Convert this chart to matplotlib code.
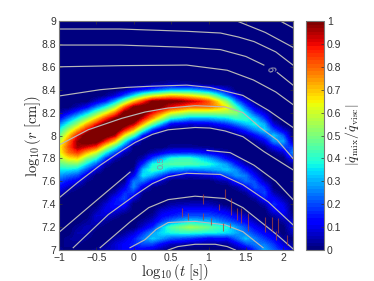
import matplotlib
matplotlib.use('Agg')
import matplotlib.pyplot as plt
import numpy as np

plt.rcParams['font.family'] = ['Liberation Sans', 'DejaVu Sans']
plt.rcParams['mathtext.fontset'] = 'cm'

# readings of |qmix/qvisc| along each time column, log10(r) -> value, anything not listed is ~0
t_cols = [-1 + 0.125 * i for i in range(27)]
r_rows = [round(7 + 0.05 * i, 2) for i in range(41)]

col_m1000 = {8.2:.03,8.15:.12,8.1:.25,8.05:.37,8.0:.46,7.95:.56,7.9:.62,7.85:.62,7.8:.55,7.75:.46,7.7:.36,7.65:.28,7.6:.2,7.55:.13,7.5:.07,7.0:.03}
col_m0875 = {8.2:.1,8.15:.25,8.1:.4,8.05:.55,8.0:.68,7.95:.78,7.9:.82,7.85:.78,7.8:.65,7.75:.5,7.7:.36,7.65:.24,7.6:.14,7.55:.07,7.5:.02,7.1:.03,7.05:.03}
col_m0750 = {8.25:.05,8.2:.2,8.15:.38,8.1:.55,8.05:.72,8.0:.9,7.95:.98,7.9:.97,7.85:.85,7.8:.68,7.75:.5,7.7:.33,7.65:.2,7.6:.1,7.55:.03,7.2:.03,7.15:.05,7.1:.04,7.05:.02}
col_m0625 = {8.25:.12,8.2:.32,8.15:.52,8.1:.72,8.05:.9,8.0:1.05,7.95:1.05,7.9:.92,7.85:.72,7.8:.52,7.75:.35,7.7:.2,7.65:.08,7.6:.02,7.25:.03,7.2:.06,7.15:.05,7.1:.02}
col_m0500 = {8.3:.07,8.25:.25,8.2:.47,8.15:.68,8.1:.88,8.05:1.05,8.0:1.1,7.95:1.05,7.9:.85,7.85:.6,7.8:.4,7.75:.22,7.7:.08,7.35:.04,7.3:.08,7.25:.07,7.2:.03,7.0:.03}
col_m0375 = {8.35:.02,8.3:.15,8.25:.38,8.2:.62,8.15:.85,8.1:1.05,8.05:1.1,8.0:1.05,7.95:.88,7.9:.62,7.85:.38,7.8:.18,7.75:.05,7.45:.02,7.4:.08,7.35:.11,7.3:.08,7.25:.03,7.05:.03,7.0:.05}
col_m0250 = {8.35:.08,8.3:.3,8.25:.55,8.2:.78,8.15:1.0,8.1:1.1,8.05:1.1,8.0:.95,7.95:.7,7.9:.42,7.85:.2,7.8:.05,7.5:.05,7.45:.13,7.4:.15,7.35:.1,7.3:.04,7.1:.04,7.05:.08,7.0:.08}
col_m0125 = {8.4:.03,8.35:.2,8.3:.5,8.25:.8,8.2:1.02,8.15:1.1,8.1:1.05,8.05:.9,8.0:.65,7.95:.4,7.9:.2,7.85:.05,7.6:.02,7.55:.09,7.5:.17,7.45:.2,7.4:.14,7.35:.06,7.15:.03,7.1:.08,7.05:.12,7.0:.12}
col_0000 = {8.4:.1,8.35:.35,8.3:.7,8.25:1.0,8.2:1.1,8.15:1.1,8.1:.95,8.05:.72,8.0:.45,7.95:.15,7.7:.03,7.65:.12,7.6:.25,7.55:.27,7.5:.18,7.45:.08,7.15:.08,7.1:.15,7.05:.16,7.0:.12}
col_0125 = {8.4:.15,8.35:.5,8.3:.85,8.25:1.05,8.2:1.05,8.15:.92,8.1:.72,8.05:.45,8.0:.15,7.8:.05,7.75:.17,7.7:.32,7.65:.36,7.6:.24,7.55:.1,7.5:.02,7.25:.03,7.2:.08,7.15:.18,7.1:.25,7.05:.2,7.0:.1}
col_0250 = {8.45:.02,8.4:.2,8.35:.6,8.3:1.0,8.25:1.05,8.2:.9,8.15:.75,8.1:.5,8.05:.2,7.85:.05,7.8:.2,7.75:.38,7.7:.42,7.65:.3,7.6:.13,7.55:.02,7.3:.03,7.25:.08,7.2:.16,7.15:.28,7.1:.33,7.05:.2,7.0:.08}
col_0375 = {8.45:.03,8.4:.25,8.35:.65,8.3:1.02,8.25:1.0,8.2:.78,8.15:.58,8.1:.3,8.05:.05,7.85:.1,7.8:.3,7.75:.43,7.7:.38,7.65:.2,7.6:.06,7.35:.07,7.3:.12,7.25:.18,7.2:.32,7.15:.35,7.1:.28,7.05:.12,7.0:.03}
col_0500 = {8.45:.05,8.4:.3,8.35:.7,8.3:1.02,8.25:.9,8.2:.65,8.15:.4,8.1:.12,7.9:.03,7.85:.15,7.8:.4,7.75:.45,7.7:.3,7.65:.1,7.4:.04,7.35:.1,7.3:.15,7.25:.25,7.2:.45,7.15:.38,7.1:.22,7.05:.06}
col_0625 = {8.45:.04,8.4:.3,8.35:.68,8.3:1.0,8.25:.85,8.2:.6,8.15:.35,8.1:.1,7.9:.03,7.85:.16,7.8:.42,7.75:.45,7.7:.28,7.65:.08,7.4:.05,7.35:.12,7.3:.18,7.25:.3,7.2:.5,7.15:.4,7.1:.2,7.05:.05}
col_0750 = {8.45:.03,8.4:.3,8.35:.65,8.3:.95,8.25:.8,8.2:.55,8.15:.3,8.1:.08,7.9:.03,7.85:.17,7.8:.42,7.75:.45,7.7:.25,7.65:.06,7.4:.06,7.35:.14,7.3:.2,7.25:.35,7.2:.55,7.15:.4,7.1:.18,7.05:.03}
col_0875 = {8.45:.02,8.4:.27,8.35:.6,8.3:.9,8.25:.8,8.2:.55,8.15:.3,8.1:.09,7.9:.02,7.85:.15,7.8:.36,7.75:.43,7.7:.26,7.65:.07,7.4:.06,7.35:.14,7.3:.2,7.25:.33,7.2:.52,7.15:.39,7.1:.15,7.05:.03}
col_1000 = {8.4:.22,8.35:.55,8.3:.82,8.25:.8,8.2:.55,8.15:.3,8.1:.1,7.9:.02,7.85:.12,7.8:.3,7.75:.4,7.7:.28,7.65:.08,7.4:.06,7.35:.14,7.3:.2,7.25:.32,7.2:.48,7.15:.38,7.1:.12,7.05:.02}
col_1125 = {8.4:.15,8.35:.4,8.3:.68,8.25:.74,8.2:.55,8.15:.33,8.1:.14,8.05:.02,7.85:.08,7.8:.22,7.75:.34,7.7:.3,7.65:.14,7.6:.03,7.4:.03,7.35:.11,7.3:.18,7.25:.27,7.2:.43,7.15:.37,7.1:.13,7.05:.03}
col_1250 = {8.4:.08,8.35:.25,8.3:.5,8.25:.65,8.2:.55,8.15:.35,8.1:.18,8.05:.04,7.85:.04,7.8:.12,7.75:.28,7.7:.33,7.65:.2,7.6:.05,7.35:.08,7.3:.15,7.25:.22,7.2:.38,7.15:.35,7.1:.13,7.05:.02}
col_1375 = {8.35:.1,8.3:.25,8.25:.42,8.2:.52,8.15:.42,8.1:.25,8.05:.1,8.0:.02,7.8:.05,7.75:.15,7.7:.27,7.65:.28,7.6:.16,7.55:.04,7.3:.1,7.25:.17,7.2:.28,7.15:.3,7.1:.23,7.05:.1,7.0:.02}
col_1500 = {8.3:.1,8.25:.22,8.2:.35,8.15:.42,8.1:.32,8.05:.18,8.0:.05,7.75:.05,7.7:.15,7.65:.25,7.6:.24,7.55:.12,7.5:.03,7.3:.06,7.25:.12,7.2:.2,7.15:.25,7.1:.32,7.05:.2,7.0:.05}
col_1625 = {8.25:.07,8.2:.18,8.15:.32,8.1:.38,8.05:.27,8.0:.13,7.95:.03,7.7:.05,7.65:.12,7.6:.2,7.55:.22,7.5:.14,7.45:.04,7.25:.06,7.2:.12,7.15:.18,7.1:.25,7.05:.25,7.0:.18}
col_1750 = {8.2:.08,8.15:.18,8.1:.3,8.05:.35,8.0:.22,7.95:.1,7.9:.02,7.6:.06,7.55:.16,7.5:.2,7.45:.15,7.4:.05,7.2:.06,7.15:.12,7.1:.18,7.05:.25,7.0:.3}
col_1875 = {8.1:.08,8.05:.2,8.0:.33,7.95:.27,7.9:.12,7.85:.02,7.5:.05,7.45:.12,7.4:.17,7.35:.12,7.3:.04,7.15:.06,7.1:.12,7.05:.18,7.0:.22}
col_2000 = {8.05:.08,8.0:.22,7.95:.3,7.9:.2,7.85:.07,7.45:.04,7.4:.1,7.35:.13,7.3:.1,7.25:.04,7.1:.03,7.05:.08,7.0:.15}
col_2125 = {7.95:.06,7.9:.18,7.85:.27,7.8:.14,7.75:.03,7.3:.03,7.25:.08,7.2:.1,7.15:.06,7.05:.03,7.0:.06}
col_2250 = {7.85:.04,7.8:.14,7.75:.2,7.7:.1,7.65:.02,7.2:.04,7.15:.07,7.1:.07,7.05:.03}
columns = [col_m1000, col_m0875, col_m0750, col_m0625, col_m0500, col_m0375, col_m0250, col_m0125, col_0000,
           col_0125, col_0250, col_0375, col_0500, col_0625, col_0750, col_0875, col_1000, col_1125, col_1250,
           col_1375, col_1500, col_1625, col_1750, col_1875, col_2000, col_2125, col_2250]

# white contour lines, (t, r)
line_t = [
    [1.96, 2.13],
    [1.38, 1.76, 2.13],
    [-1, -0.18, 0.71, 1.16, 1.4, 1.61, 1.9, 2.13],
    [-1, -0.18, 0.71, 1.16, 1.5, 1.74],
    [1.92, 2.13],
    [-1, -0.18, 0.71, 1.25, 1.6, 1.9, 2.13],
    [-1, -0.7, -0.45, -0.1, 0.22, 0.71, 1.02, 1.46, 1.8, 2.13],
    [-0.99, -0.61, -0.16, 0.15, 0.46, 0.82, 1.22, 1.46, 1.69, 1.92, 2.13],
    [-0.99, -0.75, -0.45, -0.2, 0.02, 0.25, 0.46, 0.82, 1.02, 1.22, 1.46, 1.74, 2.13],
    [-0.99, -0.54, -0.05],
    [0.98, 1.29, 1.61, 1.9, 2.13],
    [-0.81, -0.34, 0.02, 0.25, 0.46, 0.71, 1.16, 1.46, 1.8, 2.13],
    [-0.45, -0.05, 0.2, 0.46, 0.82, 1.22, 1.46, 1.92, 2.13],
    [-0.05, 0.15, 0.3, 0.46, 0.82, 1.22, 1.46, 1.73],
    [0.46, 0.59, 0.82, 1.09, 1.25, 1.36],
]
line_r = [
    [9.0, 8.94],
    [9.0, 8.90, 8.77],
    [8.93, 8.93, 8.91, 8.895, 8.86, 8.82, 8.73, 8.615],
    [8.79, 8.79, 8.77, 8.75, 8.69, 8.615],
    [8.55, 8.44],
    [8.60, 8.61, 8.615, 8.57, 8.485, 8.38, 8.27],
    [8.345, 8.375, 8.40, 8.42, 8.43, 8.44, 8.42, 8.35, 8.22, 8.07],
    [7.92, 8.05, 8.15, 8.205, 8.24, 8.26, 8.25, 8.2, 8.07, 7.96, 7.80],
    [7.46, 7.59, 7.74, 7.85, 7.94, 8.01, 8.05, 8.07, 8.065, 8.04, 7.99, 7.86, 7.70],
    [7.16, 7.41, 7.68],
    [7.87, 7.85, 7.74, 7.60, 7.44],
    [7.02, 7.31, 7.48, 7.58, 7.64, 7.67, 7.66, 7.57, 7.42, 7.22],
    [7.02, 7.245, 7.37, 7.44, 7.47, 7.45, 7.37, 7.13, 7.01],
    [7.02, 7.09, 7.18, 7.24, 7.25, 7.22, 7.16, 7.02],
    [7.0, 7.03, 7.05, 7.05, 7.03, 7.0],
]

# the short reddish spikes in the noisy part
spike_t = [1.22, 1.30, 1.14, 1.38, 1.44, 1.53, 1.76, 1.85, 1.93, 1.90, 2.05, 1.29, 0.93, 0.65, 0.72, 1.03, 0.93, 1.19]
spike_lo = [7.45, 7.31, 7.35, 7.26, 7.24, 7.17, 7.16, 7.17, 7.15, 7.09, 7.04, 7.19, 7.40, 7.29, 7.26, 7.22, 7.26, 7.17]
spike_hi = [7.53, 7.45, 7.40, 7.37, 7.37, 7.32, 7.29, 7.29, 7.28, 7.17, 7.13, 7.24, 7.49, 7.37, 7.32, 7.28, 7.32, 7.24]

x_ticks = [-1, -0.5, 0, 0.5, 1, 1.5, 2]
x_labels = ['\u22121', '\u22120.5', '0', '0.5', '1', '1.5', '2']
y_ticks = [7, 7.2, 7.4, 7.6, 7.8, 8, 8.2, 8.4, 8.6, 8.8, 9]
y_labels = ['7', '7.2', '7.4', '7.6', '7.8', '8', '8.2', '8.4', '8.6', '8.8', '9']
cb_ticks = [0, 0.1, 0.2, 0.3, 0.4, 0.5, 0.6, 0.7, 0.8, 0.9, 1]
cb_labels = ['0', '0.1', '0.2', '0.3', '0.4', '0.5', '0.6', '0.7', '0.8', '0.9', '1']

field = np.zeros((len(r_rows), len(t_cols)))
for j in range(len(columns)):
    for r in columns[j]:
        field[r_rows.index(r), j] = columns[j][r]

W, H = 374, 281
fig = plt.figure(figsize=(W / 100, H / 100), dpi=100)
ax = fig.add_axes([59 / W, 1 - 250 / H, 234 / W, 229 / H])
cmap = plt.get_cmap('jet', 64)
im = ax.imshow(field, origin='lower', aspect='auto', cmap=cmap, vmin=0, vmax=1,
               extent=[-1.0625, 2.3125, 6.975, 9.025], interpolation='bilinear')

for i in range(len(line_t)):
    ax.plot(line_t[i], line_r[i], color='#b8b8b8', lw=0.85, solid_joinstyle='round')
ax.vlines(spike_t, spike_lo, spike_hi, color='#a8423c', lw=0.8, alpha=0.75)

ax.text(0.36, 7.76, '0.5', color='#8c8ca8', fontsize=6.5, rotation=90, ha='center', va='center')
ax.text(1.82, 8.58, '6', color='#b8b8b8', fontsize=7, rotation=-80, ha='center', va='center')

ax.set_xlim(-1, 2.13)
ax.set_ylim(7, 9)
ax.set_xticks(x_ticks)
ax.set_xticklabels(x_labels)
ax.set_yticks(y_ticks)
ax.set_yticklabels(y_labels)
ax.tick_params(direction='in', top=True, right=True, length=2, width=0.5, color='#333333',
               labelcolor='#333333', labelsize=7.5, pad=2)
for s in ax.spines.values():
    s.set_color('#777777')
    s.set_linewidth(0.8)

cax = fig.add_axes([306 / W, 1 - 250 / H, 18 / W, 229 / H])
cb = fig.colorbar(im, cax=cax)
cb.set_ticks(cb_ticks)
cb.set_ticklabels(cb_labels)
cax.tick_params(direction='in', length=2, width=0.5, color='#333333', labelcolor='#333333', labelsize=7.5, pad=2)
cb.outline.set_edgecolor('#777777')
cb.outline.set_linewidth(0.8)

fig.text(175 / W, 1 - 272 / H, r'$\log_{10}(t\ [\mathrm{s}])$', fontsize=10.5, color='#222222', ha='center', va='center')
fig.text(33 / W, 1 - 136 / H, r'$\log_{10}(r\ [\mathrm{cm}])$', fontsize=10.5, color='#222222', ha='center', va='center', rotation=90)
fig.text(352 / W, 1 - 135 / H, r'$|\dot{q}_{\mathrm{mix}}/\dot{q}_{\mathrm{visc}}|$', fontsize=10, color='#222222', ha='center', va='center', rotation=90)

fig.savefig('out.png', dpi=100)
